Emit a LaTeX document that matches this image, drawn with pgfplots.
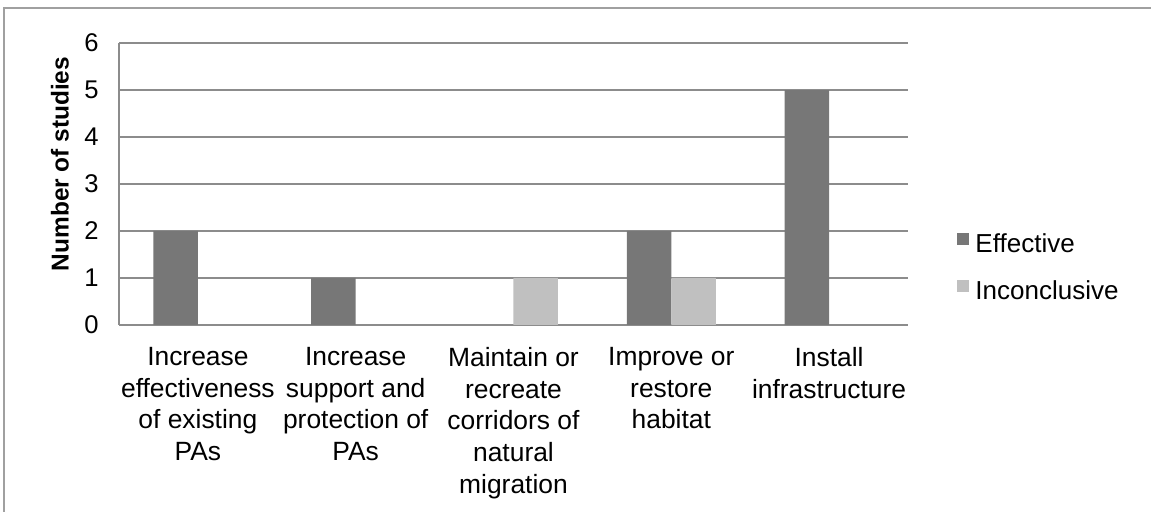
\documentclass[border=0pt]{standalone}
\usepackage{fontspec}
\setmainfont{Liberation Sans}
\usepackage{pgfplots}
\pgfplotsset{compat=1.18}

\definecolor{effcol}{HTML}{777777}
\definecolor{inccol}{HTML}{C0C0C0}
\definecolor{axcol}{HTML}{8C8C8C}
\definecolor{framecol}{HTML}{A0A0A0}

\begin{document}
\begin{tikzpicture}
\useasboundingbox (0,0) rectangle (575.5pt,256pt);
\clip (0,0) rectangle (575.5pt,256pt);
% outer chart frame
\draw[framecol, line width=0.6pt] (2pt,-10pt) rectangle (590pt,252pt);
\begin{axis}[
  at={(59.5pt,93.5pt)}, anchor=south west,
  scale only axis,
  width=394.5pt, height=141pt,
  xmin=-0.5, xmax=4.5, ymin=0, ymax=6,
  ytick={0,1,2,3,4,5,6},
  xtick={0,1,2,3,4},
  xticklabels={
    {Increase\\effectiveness\\of existing\\PAs},
    {Increase\\support and\\protection of\\PAs},
    {Maintain or\\recreate\\corridors of\\natural\\migration},
    {Improve or\\restore\\habitat},
    {Install\\infrastructure}},
  xticklabel style={align=center, anchor=north, inner sep=0pt, yshift=-11pt,
    font=\fontsize{13.2}{15.85}\selectfont},
  yticklabel style={anchor=east, inner sep=0pt, xshift=-10pt,
    font=\fontsize{12.8}{14}\selectfont},
  /pgf/number format/assume math mode=true,
  major tick length=0pt,
  axis x line*=bottom, axis y line*=left,
  axis line style={axcol, line width=0.65pt, -},
  ymajorgrids, grid style={axcol, line width=0.65pt},
  ylabel={\textbf{Number of studies}},
  ylabel style={at={(axis description cs:-0.0748,0.571)}, anchor=center,
    font=\fontsize{12.2}{14}\selectfont},
  ybar=0pt, bar width=22.25pt,
  legend cell align=left,
  legend style={draw=none, fill=none, inner sep=0pt, outer sep=0pt,
    at={(1.0621,0.3262)}, anchor=north west,
    row sep=11pt,
    nodes={inner sep=0pt, text height=9.5pt, text depth=3pt,
      font=\fontsize{13}{15}\selectfont},
    /tikz/every odd column/.append style={column sep=3pt}},
  legend image code/.code={\fill[#1] (0pt,0.25pt) rectangle (6.25pt,6.25pt);},
]
\addplot[fill=effcol, draw=none] coordinates {(0,2) (1,1) (3,2) (4,5)};
\addplot[fill=inccol, draw=none] coordinates {(2,1) (3,1)};
\legend{Effective, Inconclusive}
\end{axis}
\end{tikzpicture}
\end{document}
